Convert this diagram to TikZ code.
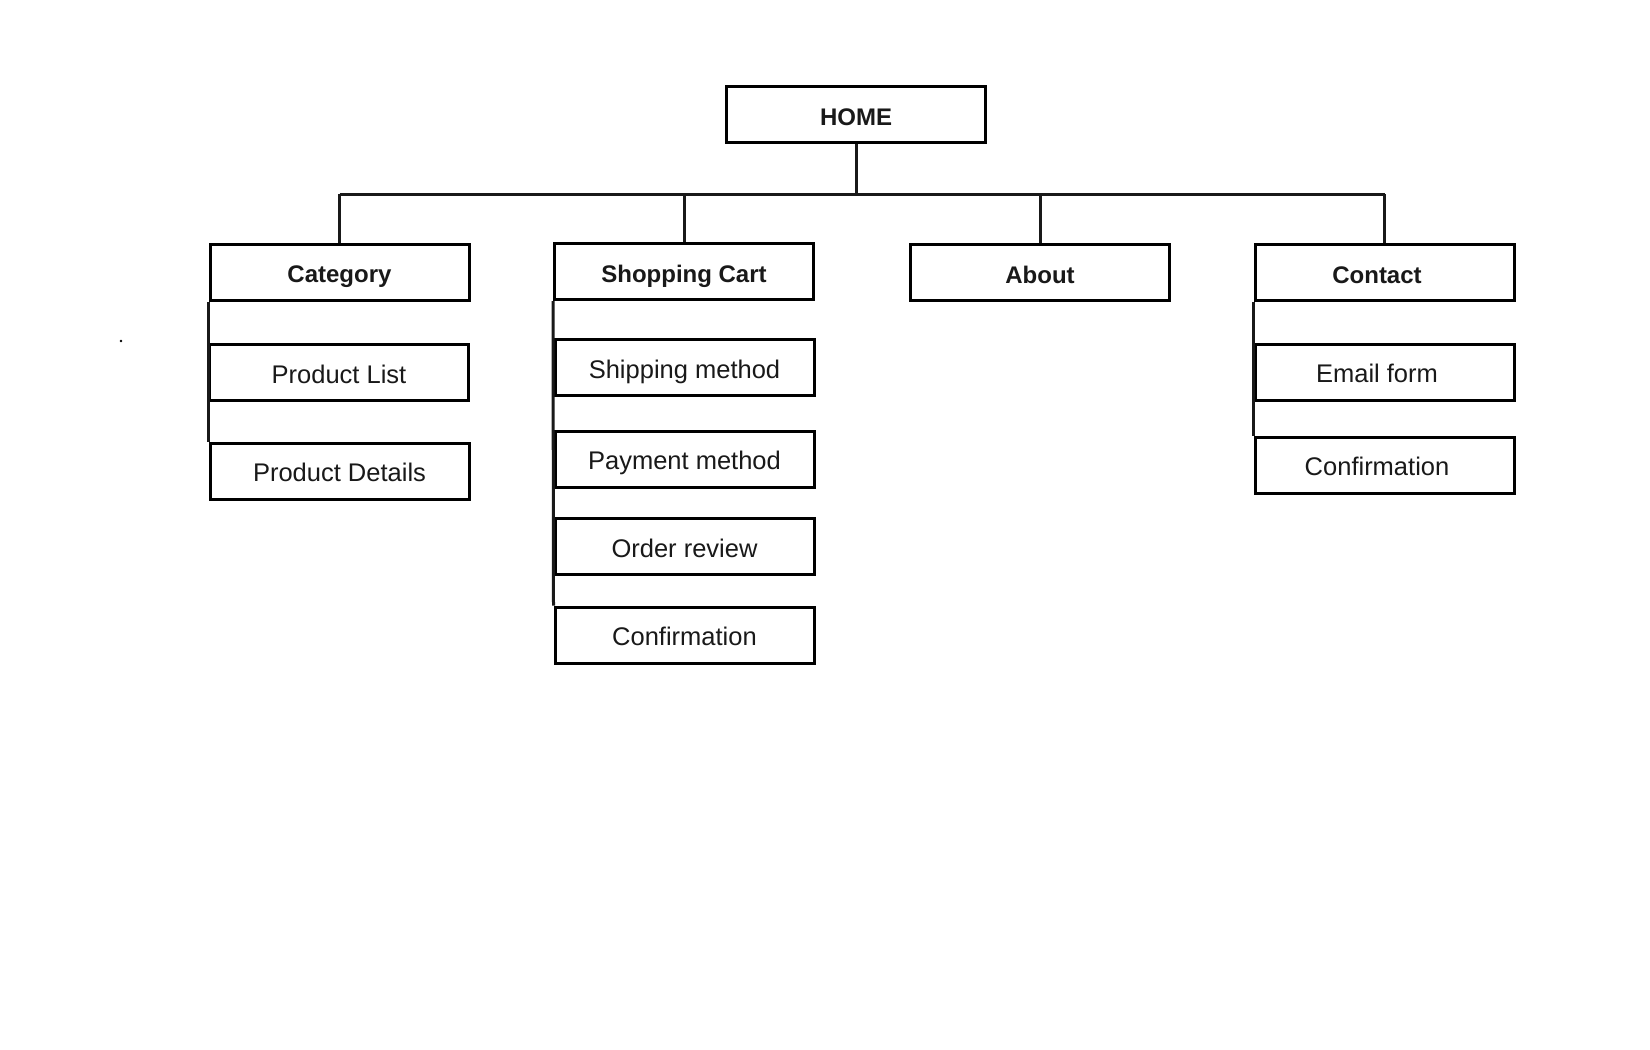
\documentclass[tikz,border=0pt]{standalone}
\usepackage{fontspec}
\setmainfont{Liberation Sans}
\begin{document}
\begin{tikzpicture}[x=1pt,y=-1pt,
  box/.style={draw=black, line width=3pt, fill=white, minimum width=259pt,
    minimum height=56pt, inner sep=0pt, text height=21pt, text depth=0pt,
    font=\fontsize{25.5}{29}\selectfont, text=black!90},
  head/.style={box, font=\fontsize{24}{28}\selectfont\bfseries},
  link/.style={draw=black!90, line width=3pt}]
  \path[use as bounding box] (0,0) rectangle (1650,1050);
  % nudges a label left inside its box
  \def\lft{\kern-15pt}

  % top level
  \node[head] (home) at (856,114.5) {HOME};
  \coordinate (bus) at (858,194);

  % section headers
  \node[head] (cat)  at (339.5,272) {Category};
  \node[head] (cart) at (684,271.5) {Shopping Cart};
  \node[head] (about) at (1040,272.5) {About};
  \node[head] (contact) at (1384.5,272.5) {\lft Contact};

  % category pages
  \node[box] (plist) at (339,372.5) {Product List};
  \node[box] (pdet)  at (339.5,471) {Product Details};

  % checkout flow
  \node[box] (ship)  at (684.5,367.5) {Shipping method};
  \node[box] (pay)   at (684.5,459) {Payment method};
  \node[box] (order) at (684.5,546.5) {Order review};
  \node[box] (conf1) at (684.5,635) {Confirmation};

  % contact pages
  \node[box] (email) at (1384.5,372) {\lft Email form};
  \node[box] (conf2) at (1384.5,465) {\lft Confirmation};

  % tree connectors
  \draw[link] (home.south) -- (home.south |- bus);
  \draw[link] (cat.north |- bus) -- (contact.north |- bus);
  \foreach \n in {cat,cart,about,contact}
    \draw[link] (\n.north) -- (\n.north |- bus);

  % side rails joining each section to its pages
  \draw[link] (cat.south west) -- (pdet.north west);
  \draw[link] (cart.south west) -- (conf1.north west);
  \draw[link] (contact.south west) -- (conf2.north west);

  \fill[black] (121,341) circle (1.3);
\end{tikzpicture}
\end{document}
